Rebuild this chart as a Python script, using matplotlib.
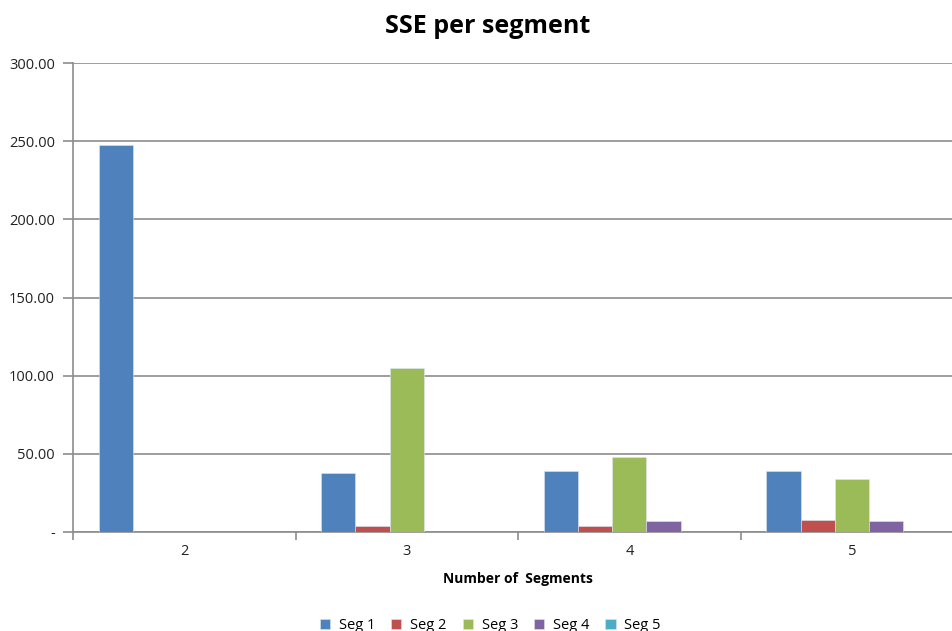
import numpy as np
import matplotlib.pyplot as plt
from matplotlib.ticker import FuncFormatter

plt.rcParams['font.family'] = ['Open Sans', 'DejaVu Sans']

# number of segments on the x axis, SSE for each segment
categories = ['2', '3', '4', '5']
seg_names = ['Seg 1', 'Seg 2', 'Seg 3', 'Seg 4', 'Seg 5']
seg1 = [247.5, 37.7, 39.2, 39.2]
seg2 = [0, 3.8, 3.7, 7.5]
seg3 = [0, 104.9, 47.8, 33.7]
seg4 = [0, 0, 7.2, 7.2]
seg5 = [0, 0, 0, 0]
colors = ['#4F81BD', '#C0504D', '#9BBB59', '#8064A2', '#4BACC6']

fig = plt.figure(figsize=(9.52, 6.31), dpi=100)
ax = fig.add_axes([0.0767, 0.157, 0.935, 0.743])

x = np.arange(len(categories))
w = 1 / 6.5  # 150% gap between groups
for i, (vals, name, c) in enumerate(zip([seg1, seg2, seg3, seg4, seg5], seg_names, colors)):
    ax.bar(x + (i - 2) * w, vals, width=w, color=c, label=name,
           edgecolor='#dde6f0', linewidth=0.4, zorder=3)

ax.set_xlim(-0.5, 3.5)
ax.set_ylim(0, 300)
ax.set_yticks(np.arange(0, 301, 50))
ax.yaxis.set_major_formatter(FuncFormatter(lambda v, p: '-' if v == 0 else f'{v:.2f}'))
ax.grid(axis='y', color='#8c8c8c', linewidth=1.2, zorder=0)

# category labels in the middle, ticks on the group boundaries
ax.set_xticks(np.arange(-0.5, 4, 1))
ax.set_xticklabels([])
ax.set_xticks(x, minor=True)
ax.set_xticklabels(categories, minor=True)
ax.tick_params(axis='x', which='minor', length=0, pad=9, labelsize=10.5, colors='#222222')
ax.tick_params(axis='x', which='major', length=6, color='#8c8c8c', width=1.2)
ax.tick_params(axis='y', length=7, color='#8c8c8c', width=1.2, pad=6, labelsize=10.5, labelcolor='#222222')

for s in ['top', 'right']:
    ax.spines[s].set_visible(False)
for s in ['left', 'bottom']:
    ax.spines[s].set_color('#8c8c8c')
    ax.spines[s].set_linewidth(1.2)

ax.set_xlabel('Number of  Segments', fontsize=10, fontweight='bold', labelpad=9)
fig.text(0.512, 0.958, 'SSE per segment', ha='center', va='center', fontsize=18, fontweight='bold')

fig.legend(loc='center', bbox_to_anchor=(0.515, 0.009), ncol=5, frameon=False,
           fontsize=10.5, handlelength=0.7, handleheight=0.7, columnspacing=1.1, handletextpad=0.6)

plt.savefig('out.png', dpi=100)
